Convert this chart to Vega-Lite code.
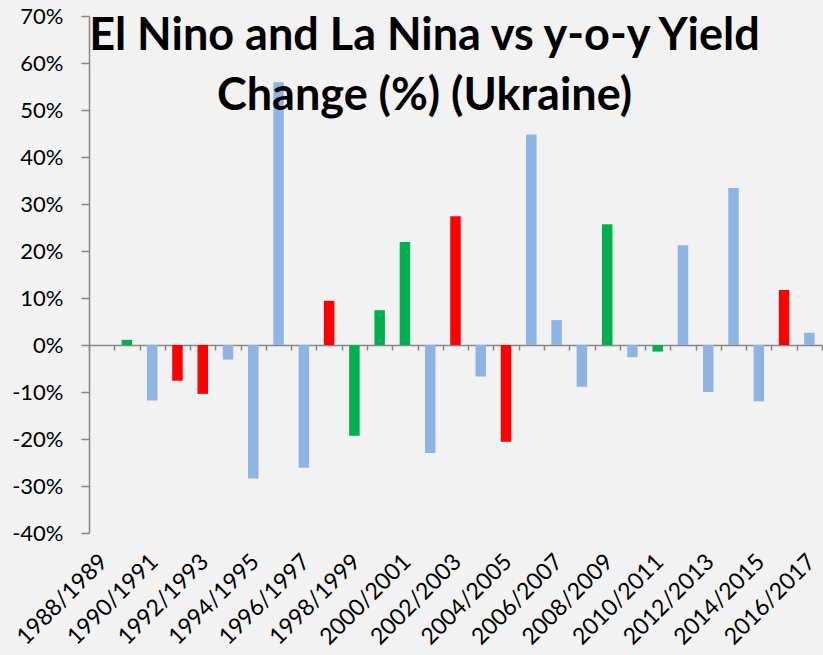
{
  "$schema": "https://vega.github.io/schema/vega-lite/v6.json",
  "width": 733,
  "height": 517,
  "autosize": {"type": "none"},
  "padding": {"left": 89, "top": 16, "right": 1, "bottom": 122},
  "background": "#F2F2F2",
  "config": {"view": {"stroke": null}, "font": "Lato"},
  "title": {
    "text": ["El Nino and La Nina vs y-o-y Yield", "Change (%) (Ukraine)"],
    "font": "Lato",
    "fontSize": 45,
    "fontWeight": "bold",
    "color": "#000000",
    "lineHeight": 60,
    "anchor": "middle",
    "frame": "group",
    "orient": "top",
    "baseline": "alphabetic",
    "offset": -150,
    "dx": -31
  },
  "data": {
    "values": [
      {"season": "1988/1989", "change": null, "phase": "Neutral"},
      {"season": "1989/1990", "change": 1.1, "phase": "La Nina"},
      {"season": "1990/1991", "change": -11.8, "phase": "Neutral"},
      {"season": "1991/1992", "change": -7.6, "phase": "El Nino"},
      {"season": "1992/1993", "change": -10.4, "phase": "El Nino"},
      {"season": "1993/1994", "change": -3.1, "phase": "Neutral"},
      {"season": "1994/1995", "change": -28.4, "phase": "Neutral"},
      {"season": "1995/1996", "change": 55.9, "phase": "Neutral"},
      {"season": "1996/1997", "change": -26.1, "phase": "Neutral"},
      {"season": "1997/1998", "change": 9.4, "phase": "El Nino"},
      {"season": "1998/1999", "change": -19.3, "phase": "La Nina"},
      {"season": "1999/2000", "change": 7.4, "phase": "La Nina"},
      {"season": "2000/2001", "change": 21.9, "phase": "La Nina"},
      {"season": "2001/2002", "change": -23.0, "phase": "Neutral"},
      {"season": "2002/2003", "change": 27.4, "phase": "El Nino"},
      {"season": "2003/2004", "change": -6.7, "phase": "Neutral"},
      {"season": "2004/2005", "change": -20.6, "phase": "El Nino"},
      {"season": "2005/2006", "change": 44.8, "phase": "Neutral"},
      {"season": "2006/2007", "change": 5.3, "phase": "Neutral"},
      {"season": "2007/2008", "change": -8.9, "phase": "Neutral"},
      {"season": "2008/2009", "change": 25.7, "phase": "La Nina"},
      {"season": "2009/2010", "change": -2.6, "phase": "Neutral"},
      {"season": "2010/2011", "change": -1.4, "phase": "La Nina"},
      {"season": "2011/2012", "change": 21.2, "phase": "Neutral"},
      {"season": "2012/2013", "change": -10.0, "phase": "Neutral"},
      {"season": "2013/2014", "change": 33.4, "phase": "Neutral"},
      {"season": "2014/2015", "change": -12.0, "phase": "Neutral"},
      {"season": "2015/2016", "change": 11.7, "phase": "El Nino"},
      {"season": "2016/2017", "change": 2.6, "phase": "Neutral"}
    ]
  },
  "mark": {"type": "bar", "width": 10.5},
  "encoding": {
    "x": {
      "field": "season",
      "type": "ordinal",
      "sort": null,
      "scale": {
        "domain": ["1988/1989", "1989/1990", "1990/1991", "1991/1992", "1992/1993", "1993/1994", "1994/1995", "1995/1996", "1996/1997", "1997/1998", "1998/1999", "1999/2000", "2000/2001", "2001/2002", "2002/2003", "2003/2004", "2004/2005", "2005/2006", "2006/2007", "2007/2008", "2008/2009", "2009/2010", "2010/2011", "2011/2012", "2012/2013", "2013/2014", "2014/2015", "2015/2016", "2016/2017"],
        "paddingInner": 0,
        "paddingOuter": 0
      },
      "axis": {
        "title": null,
        "offset": -188,
        "tickBand": "extent",
        "tickSize": 5,
        "tickColor": "#868686",
        "tickWidth": 1.5,
        "domainColor": "#868686",
        "domainWidth": 1.5,
        "labelAngle": -45,
        "labelFontSize": 23,
        "labelFont": "Lato",
        "labelColor": "#000000",
        "labelPadding": 200,
        "labelOffset": -6,
        "labelExpr": "toNumber(substring(datum.value,0,4)) % 2 == 0 ? datum.value : ''",
        "labelOverlap": false
      }
    },
    "y": {
      "field": "change",
      "type": "quantitative",
      "scale": {"domain": [-40, 70], "nice": false},
      "axis": {
        "title": null,
        "values": [-40, -30, -20, -10, 0, 10, 20, 30, 40, 50, 60, 70],
        "labelExpr": "datum.value + '%'",
        "grid": false,
        "tickSize": 8,
        "tickColor": "#868686",
        "tickWidth": 1.5,
        "domainColor": "#868686",
        "domainWidth": 1.5,
        "labelFontSize": 22,
        "labelFont": "Lato",
        "labelColor": "#000000",
        "labelPadding": 18
      }
    },
    "color": {
      "field": "phase",
      "type": "nominal",
      "scale": {"domain": ["Neutral", "El Nino", "La Nina"], "range": ["#8EB4E3", "#FF0000", "#00B050"]},
      "legend": null
    }
  }
}
